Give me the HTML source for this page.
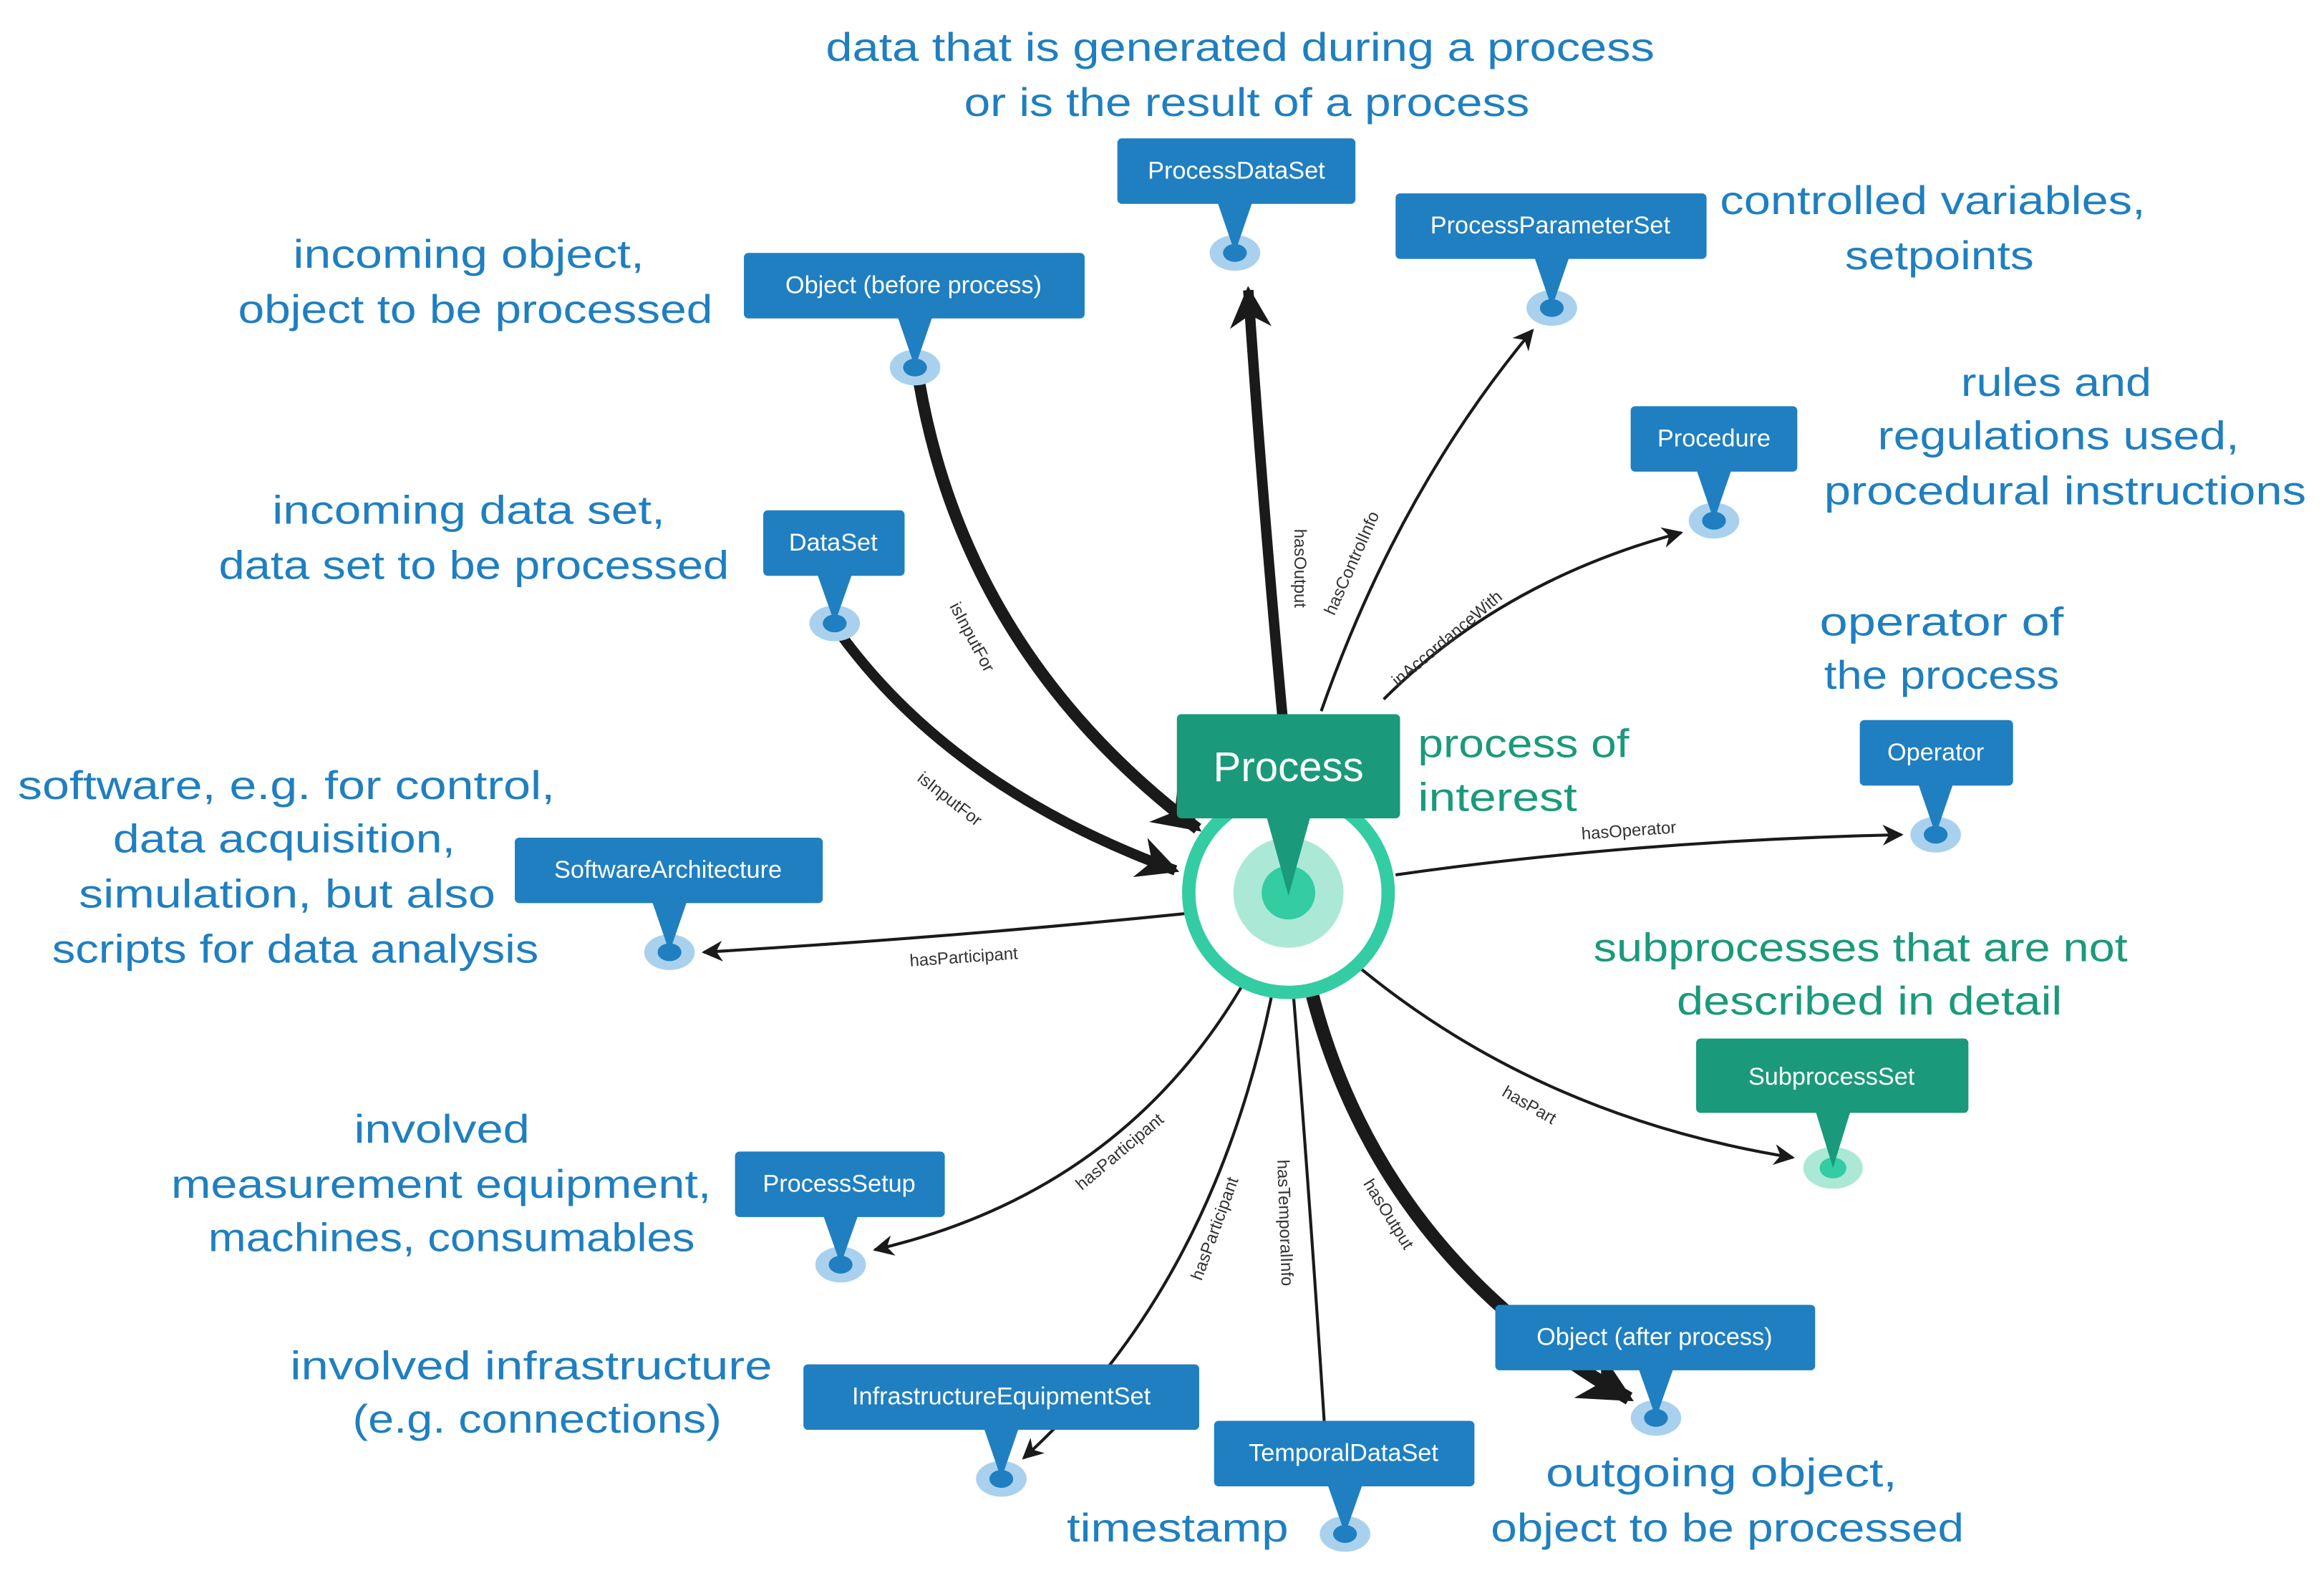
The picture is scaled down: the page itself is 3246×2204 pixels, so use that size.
<!DOCTYPE html>
<html><head><meta charset="utf-8"><style>
html,body{margin:0;padding:0;background:#fff;}
svg{display:block;}
.a{font-family:"Liberation Sans","DejaVu Sans",sans-serif;font-size:27px;fill:#1f7fc0;text-anchor:middle;}
.g{fill:#1a9a7a;}
.s{text-anchor:start;}
.n{font-family:"Liberation Sans","DejaVu Sans",sans-serif;font-size:16.5px;fill:#fff;text-anchor:middle;}
.e{font-family:"Liberation Sans","DejaVu Sans",sans-serif;font-size:11.5px;fill:#333;text-anchor:middle;}
.l{fill:none;stroke:#1a1a1a;}
</style></head><body>
<svg width="3246" height="2204" viewBox="0 0 1562 1060.6" preserveAspectRatio="none" xmlns="http://www.w3.org/2000/svg">
<defs>
<marker id="ab" viewBox="0 0 10 10" refX="9" refY="5" markerWidth="4" markerHeight="4" orient="auto"><path d="M0,0 L10,5 L0,10 L3,5z" fill="#1a1a1a"/></marker>
<marker id="am" viewBox="0 0 10 10" refX="9" refY="5" markerWidth="14" markerHeight="14" markerUnits="userSpaceOnUse" orient="auto"><path d="M0,0 L10,5 L0,10 L3,5z" fill="#1a1a1a"/></marker>
</defs>

<path class="l" stroke-width="7" d="M862,482 Q848,330 839,195" marker-end="url(#ab)"/>
<path class="l" stroke-width="2" d="M888,478 Q940,330 1030,222" marker-end="url(#am)"/>
<path class="l" stroke-width="2" d="M930,470 Q1010,390 1130,358" marker-end="url(#am)"/>
<path class="l" stroke-width="8" d="M618,258 Q650,440 805,557" marker-end="url(#ab)"/>
<path class="l" stroke-width="7" d="M564,425 Q640,530 790,585" marker-end="url(#ab)"/>
<path class="l" stroke-width="2" d="M938,588 Q1100,565 1278,561" marker-end="url(#am)"/>
<path class="l" stroke-width="2" d="M797,614 Q640,630 473,640" marker-end="url(#am)"/>
<path class="l" stroke-width="2" d="M905,643 Q1030,750 1205,778" marker-end="url(#am)"/>
<path class="l" stroke-width="2" d="M842,650 Q760,800 588,840" marker-end="url(#am)"/>
<path class="l" stroke-width="2" d="M858,652 Q820,860 688,980" marker-end="url(#am)"/>
<path class="l" stroke-width="2" d="M868,652 Q880,800 890,955"/>
<path class="l" stroke-width="9" d="M878,652 Q920,840 1095,940" marker-end="url(#ab)"/>

<text class="e" transform="translate(870,382) rotate(90)">hasOutput</text>
<text class="e" transform="translate(912,380) rotate(-66)">hasControlInfo</text>
<text class="e" transform="translate(975,432) rotate(-40)">inAccordanceWith</text>
<text class="e" transform="translate(650,430) rotate(62)">isInputFor</text>
<text class="e" transform="translate(636,540) rotate(38)">isInputFor</text>
<text class="e" transform="translate(1095,562) rotate(-4)">hasOperator</text>
<text class="e" transform="translate(648,647) rotate(-4)">hasParticipant</text>
<text class="e" transform="translate(1026,746) rotate(30)">hasPart</text>
<text class="e" transform="translate(755,777) rotate(-40)">hasParticipant</text>
<text class="e" transform="translate(820,827) rotate(-70)">hasParticipant</text>
<text class="e" transform="translate(860,822) rotate(88)">hasTemporalInfo</text>
<text class="e" transform="translate(930,818) rotate(58)">hasOutput</text>

<circle cx="866" cy="600" r="67" fill="#fff" stroke="#33cca3" stroke-width="9"/>
<circle cx="866" cy="600" r="37" fill="#abe9d6"/>
<circle cx="866" cy="600" r="18" fill="#33cca3"/>
<path d="M851,548 L881,548 L866,602z" fill="#1a9a7a"/>
<rect x="791" y="480" width="150" height="70" rx="3" fill="#1a9a7a"/>
<text x="866" y="525" font-family="Liberation Sans,DejaVu Sans,sans-serif" font-size="28" fill="#fff" text-anchor="middle">Process</text>

<ellipse cx="1232" cy="785" rx="20" ry="14" fill="#abe9d6"/>
<ellipse cx="1232" cy="785" rx="9" ry="7" fill="#33cca3"/>
<path d="M1220,746 L1244,746 L1232,785z" fill="#1a9a7a"/>
<rect x="1140" y="698" width="183" height="50" rx="3" fill="#1a9a7a"/>
<text class="n" x="1231" y="729" font-size="19">SubprocessSet</text>

<ellipse cx="830" cy="170" rx="17" ry="12" fill="#a9d1ee"/><ellipse cx="830" cy="170" rx="8" ry="6" fill="#1f7fc0"/>
<path d="M818,135 L842,135 L830,170z" fill="#1f7fc0"/>
<rect x="751" y="93" width="160" height="44" rx="3" fill="#1f7fc0"/>
<text class="n" x="831" y="120">ProcessDataSet</text>
<ellipse cx="1043" cy="207" rx="17" ry="12" fill="#a9d1ee"/><ellipse cx="1043" cy="207" rx="8" ry="6" fill="#1f7fc0"/>
<path d="M1031,172 L1055,172 L1043,207z" fill="#1f7fc0"/>
<rect x="938" y="130" width="209" height="44" rx="3" fill="#1f7fc0"/>
<text class="n" x="1042" y="157">ProcessParameterSet</text>
<ellipse cx="615" cy="247" rx="17" ry="12" fill="#a9d1ee"/><ellipse cx="615" cy="247" rx="8" ry="6" fill="#1f7fc0"/>
<path d="M603,212 L627,212 L615,247z" fill="#1f7fc0"/>
<rect x="500" y="170" width="229" height="44" rx="3" fill="#1f7fc0"/>
<text class="n" x="614" y="197">Object (before process)</text>
<ellipse cx="1152" cy="350" rx="17" ry="12" fill="#a9d1ee"/><ellipse cx="1152" cy="350" rx="8" ry="6" fill="#1f7fc0"/>
<path d="M1140,315 L1164,315 L1152,350z" fill="#1f7fc0"/>
<rect x="1096" y="273" width="112" height="44" rx="3" fill="#1f7fc0"/>
<text class="n" x="1152" y="300">Procedure</text>
<ellipse cx="561" cy="419" rx="17" ry="12" fill="#a9d1ee"/><ellipse cx="561" cy="419" rx="8" ry="6" fill="#1f7fc0"/>
<path d="M549,385 L573,385 L561,419z" fill="#1f7fc0"/>
<rect x="513" y="343" width="95" height="44" rx="3" fill="#1f7fc0"/>
<text class="n" x="560" y="370">DataSet</text>
<ellipse cx="1301" cy="561" rx="17" ry="12" fill="#a9d1ee"/><ellipse cx="1301" cy="561" rx="8" ry="6" fill="#1f7fc0"/>
<path d="M1289,526 L1313,526 L1301,561z" fill="#1f7fc0"/>
<rect x="1250" y="484" width="103" height="44" rx="3" fill="#1f7fc0"/>
<text class="n" x="1301" y="511">Operator</text>
<ellipse cx="450" cy="640" rx="17" ry="12" fill="#a9d1ee"/><ellipse cx="450" cy="640" rx="8" ry="6" fill="#1f7fc0"/>
<path d="M438,605 L462,605 L450,640z" fill="#1f7fc0"/>
<rect x="346" y="563" width="207" height="44" rx="3" fill="#1f7fc0"/>
<text class="n" x="449" y="590">SoftwareArchitecture</text>
<ellipse cx="565" cy="850" rx="17" ry="12" fill="#a9d1ee"/><ellipse cx="565" cy="850" rx="8" ry="6" fill="#1f7fc0"/>
<path d="M553,816 L577,816 L565,850z" fill="#1f7fc0"/>
<rect x="494" y="774" width="141" height="44" rx="3" fill="#1f7fc0"/>
<text class="n" x="564" y="801">ProcessSetup</text>
<ellipse cx="1113" cy="953" rx="17" ry="12" fill="#a9d1ee"/><ellipse cx="1113" cy="953" rx="8" ry="6" fill="#1f7fc0"/>
<path d="M1101,919 L1125,919 L1113,953z" fill="#1f7fc0"/>
<rect x="1005" y="877" width="215" height="44" rx="3" fill="#1f7fc0"/>
<text class="n" x="1112" y="904">Object (after process)</text>
<ellipse cx="673" cy="994" rx="17" ry="12" fill="#a9d1ee"/><ellipse cx="673" cy="994" rx="8" ry="6" fill="#1f7fc0"/>
<path d="M661,959 L685,959 L673,994z" fill="#1f7fc0"/>
<rect x="540" y="917" width="266" height="44" rx="3" fill="#1f7fc0"/>
<text class="n" x="673" y="944">InfrastructureEquipmentSet</text>
<ellipse cx="904" cy="1031" rx="17" ry="12" fill="#a9d1ee"/><ellipse cx="904" cy="1031" rx="8" ry="6" fill="#1f7fc0"/>
<path d="M892,997 L916,997 L904,1031z" fill="#1f7fc0"/>
<rect x="816" y="955" width="175" height="44" rx="3" fill="#1f7fc0"/>
<text class="n" x="903" y="982">TemporalDataSet</text>

<text class="a s" x="555" y="41" textLength="557" lengthAdjust="spacingAndGlyphs">data that is generated during a process</text>
<text class="a s" x="648" y="78" textLength="380" lengthAdjust="spacingAndGlyphs">or is the result of a process</text>
<text class="a s" x="1156" y="144" textLength="286" lengthAdjust="spacingAndGlyphs">controlled variables,</text>
<text class="a s" x="1240" y="181" textLength="127" lengthAdjust="spacingAndGlyphs">setpoints</text>
<text class="a s" x="197" y="180" textLength="236" lengthAdjust="spacingAndGlyphs">incoming object,</text>
<text class="a s" x="160" y="217" textLength="319" lengthAdjust="spacingAndGlyphs">object to be processed</text>
<text class="a s" x="1318" y="266" textLength="128" lengthAdjust="spacingAndGlyphs">rules and</text>
<text class="a s" x="1262" y="302" textLength="243" lengthAdjust="spacingAndGlyphs">regulations used,</text>
<text class="a s" x="1226" y="339" textLength="324" lengthAdjust="spacingAndGlyphs">procedural instructions</text>
<text class="a s" x="183" y="352" textLength="264" lengthAdjust="spacingAndGlyphs">incoming data set,</text>
<text class="a s" x="147" y="389" textLength="343" lengthAdjust="spacingAndGlyphs">data set to be processed</text>
<text class="a s" x="1223" y="427" textLength="164" lengthAdjust="spacingAndGlyphs">operator of</text>
<text class="a s" x="1226" y="463" textLength="158" lengthAdjust="spacingAndGlyphs">the process</text>
<text class="a g s" x="953" y="509" textLength="142" lengthAdjust="spacingAndGlyphs">process of</text>
<text class="a g s" x="953" y="545" textLength="107" lengthAdjust="spacingAndGlyphs">interest</text>
<text class="a s" x="12" y="537" textLength="361" lengthAdjust="spacingAndGlyphs">software, e.g. for control,</text>
<text class="a s" x="76" y="573" textLength="230" lengthAdjust="spacingAndGlyphs">data acquisition,</text>
<text class="a s" x="53" y="610" textLength="280" lengthAdjust="spacingAndGlyphs">simulation, but also</text>
<text class="a s" x="35" y="647" textLength="327" lengthAdjust="spacingAndGlyphs">scripts for data analysis</text>
<text class="a g s" x="1071" y="646" textLength="359" lengthAdjust="spacingAndGlyphs">subprocesses that are not</text>
<text class="a g s" x="1127" y="682" textLength="259" lengthAdjust="spacingAndGlyphs">described in detail</text>
<text class="a s" x="238" y="768" textLength="118" lengthAdjust="spacingAndGlyphs">involved</text>
<text class="a s" x="115" y="805" textLength="363" lengthAdjust="spacingAndGlyphs">measurement equipment,</text>
<text class="a s" x="140" y="841" textLength="327" lengthAdjust="spacingAndGlyphs">machines, consumables</text>
<text class="a s" x="195" y="927" textLength="324" lengthAdjust="spacingAndGlyphs">involved infrastructure</text>
<text class="a s" x="237" y="963" textLength="248" lengthAdjust="spacingAndGlyphs">(e.g. connections)</text>
<text class="a s" x="1039" y="999" textLength="236" lengthAdjust="spacingAndGlyphs">outgoing object,</text>
<text class="a s" x="1002" y="1036" textLength="318" lengthAdjust="spacingAndGlyphs">object to be processed</text>
<text class="a s" x="717" y="1036" textLength="149" lengthAdjust="spacingAndGlyphs">timestamp</text>
</svg>
</body></html>
